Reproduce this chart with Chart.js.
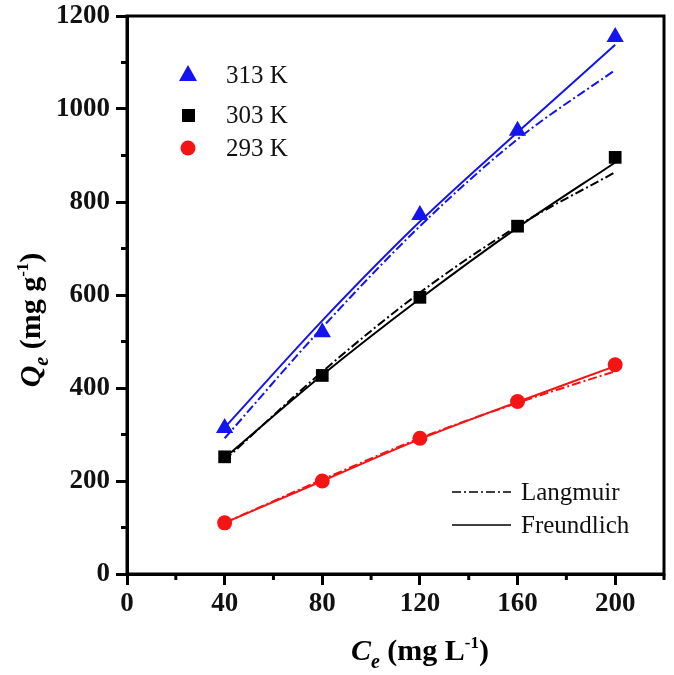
<!DOCTYPE html>
<html>
<head>
<meta charset="utf-8">
<script src="https://cdn.jsdelivr.net/npm/chart.js@4.4.0/dist/chart.umd.min.js"></script>
<style>
html, body { margin: 0; padding: 0; background: #fff; overflow: hidden; }
canvas { display: block; }
</style>
</head>
<body>
<canvas id="qeChart" width="674" height="675"></canvas>
<script>
// equilibrium concentration (mg/L)
var ceValues = [40, 80, 120, 160, 200];
// measured uptake (mg/g)
var q313 = [314, 520, 772, 953, 1155];
var q303 = [252, 427, 595, 748, 896];
var q293 = [110, 200, 292, 371, 450];
// Freundlich fits (solid) and Langmuir fits (dash-dot)
var fr313 = [315, 545, 758, 950, 1138];
var la313 = [292, 530, 748, 935, 1084];
var fr303 = [250, 428, 592, 745, 885];
var la303 = [245, 435, 605, 748, 864];
var fr293 = [110, 200, 290, 370, 447];
var la293 = [110, 203, 292, 368, 436];
// ticks
var xTicks = [0, 40, 80, 120, 160, 200];
var xMinor = [20, 60, 100, 140, 180, 220];
var yTicks = [0, 200, 400, 600, 800, 1000, 1200];
var yMinor = [100, 300, 500, 700, 900, 1100];

var BLUE = 'rgb(20,20,240)';
var RED = 'rgb(245,20,20)';
var BLACK = '#000';
var SERIF = '"Liberation Serif", "Times New Roman", serif';
var DASHDOT = [9, 3, 2, 3];

function pts(ys) {
    return ceValues.map(function(c, i) { return {x: c, y: ys[i]}; });
}

function fitLine(ys, color, dashed) {
    return {
        type: 'line',
        data: pts(ys),
        borderColor: color,
        borderWidth: 2,
        borderDash: dashed ? DASHDOT : [],
        pointRadius: 0,
        tension: 0.4,
        cubicInterpolationMode: 'monotone',
        fill: false,
        order: 2
    };
}

function markers(ys, color, style, r) {
    return {
        type: 'scatter',
        data: pts(ys),
        backgroundColor: color,
        borderColor: color,
        borderWidth: 0,
        pointStyle: style,
        pointRadius: r,
        pointHoverRadius: r,
        showLine: false,
        order: 1
    };
}

// draw a run of text pieces with their own fonts / offsets
function drawRuns(ctx, runs, cx, y) {
    var total = 0;
    runs.forEach(function(r) { ctx.font = r.font; total += ctx.measureText(r.t).width; });
    var x = cx - total / 2;
    ctx.textAlign = 'left';
    ctx.textBaseline = 'alphabetic';
    runs.forEach(function(r) {
        ctx.font = r.font;
        ctx.fillText(r.t, x, y + (r.dy || 0));
        x += ctx.measureText(r.t).width;
    });
}

var decorPlugin = {
    id: 'decor',
    afterDraw: function(chart) {
        var ctx = chart.ctx;
        var a = chart.chartArea;
        var xs = chart.scales.x, ys = chart.scales.y;
        ctx.save();
        ctx.strokeStyle = BLACK;
        ctx.fillStyle = BLACK;
        ctx.lineWidth = 3;
        // frame
        ctx.strokeRect(a.left, a.top, a.right - a.left, a.bottom - a.top);
        // minor ticks
        ctx.beginPath();
        xMinor.forEach(function(v) {
            var px = xs.getPixelForValue(v);
            ctx.moveTo(px, a.bottom); ctx.lineTo(px, a.bottom + 6);
        });
        yMinor.forEach(function(v) {
            var py = ys.getPixelForValue(v);
            ctx.moveTo(a.left, py); ctx.lineTo(a.left - 6, py);
        });
        ctx.stroke();

        // axis titles
        var big = 'bold 30px ' + SERIF;
        drawRuns(ctx, [
            {t: 'C', font: 'italic bold 30px ' + SERIF},
            {t: 'e', font: 'italic bold 20px ' + SERIF, dy: 8},
            {t: ' (mg L', font: big},
            {t: '-1', font: 'bold 17px ' + SERIF, dy: -12},
            {t: ')', font: big}
        ], 420, 660);
        ctx.save();
        ctx.translate(40, 320);
        ctx.rotate(-Math.PI / 2);
        drawRuns(ctx, [
            {t: 'Q', font: 'italic bold 30px ' + SERIF},
            {t: 'e', font: 'italic bold 20px ' + SERIF, dy: 8},
            {t: ' (mg g', font: big},
            {t: '-1', font: 'bold 17px ' + SERIF, dy: -12},
            {t: ')', font: big}
        ], 0, 0);
        ctx.restore();

        // marker legend
        ctx.font = '25px ' + SERIF;
        ctx.textBaseline = 'middle';
        ctx.textAlign = 'left';
        ctx.fillStyle = BLUE;
        ctx.beginPath();
        ctx.moveTo(188, 65); ctx.lineTo(197, 81); ctx.lineTo(179, 81); ctx.closePath();
        ctx.fill();
        ctx.fillStyle = BLACK;
        ctx.fillRect(182, 109, 13, 13);
        ctx.fillStyle = RED;
        ctx.beginPath(); ctx.arc(188, 148, 7.5, 0, Math.PI * 2); ctx.fill();
        ctx.fillStyle = '#111';
        ctx.fillText('313 K', 226, 76);
        ctx.fillText('303 K', 226, 116);
        ctx.fillText('293 K', 226, 149);

        // line legend
        ctx.strokeStyle = BLACK;
        ctx.lineWidth = 1.5;
        ctx.setLineDash(DASHDOT);
        ctx.beginPath(); ctx.moveTo(452, 492); ctx.lineTo(511, 492); ctx.stroke();
        ctx.setLineDash([]);
        ctx.beginPath(); ctx.moveTo(452, 525); ctx.lineTo(511, 525); ctx.stroke();
        ctx.fillText('Langmuir', 521, 493);
        ctx.fillText('Freundlich', 521, 526);
        ctx.restore();
    }
};

var ctx = document.getElementById('qeChart').getContext('2d');
var qeChart = new Chart(ctx, {
    type: 'scatter',
    data: {
        datasets: [
            fitLine(la313, BLUE, true),
            fitLine(fr313, BLUE, false),
            fitLine(la303, BLACK, true),
            fitLine(fr303, BLACK, false),
            fitLine(la293, RED, true),
            fitLine(fr293, RED, false),
            markers(q313, BLUE, 'triangle', 10),
            markers(q303, BLACK, 'rect', 9),
            markers(q293, RED, 'circle', 7.5)
        ]
    },
    options: {
        responsive: false,
        animation: false,
        layout: { padding: { top: 16, right: 7, left: 0, bottom: 0 } },
        plugins: {
            legend: { display: false },
            tooltip: { enabled: false }
        },
        scales: {
            x: {
                type: 'linear',
                min: 0,
                max: 220,
                border: { color: BLACK, width: 3 },
                grid: { drawOnChartArea: false, tickLength: 11, tickColor: BLACK, tickWidth: 3 },
                afterBuildTicks: function(axis) {
                    axis.ticks = xTicks.map(function(v) { return {value: v}; });
                },
                afterFit: function(axis) {
                    axis.height = 101;
                    axis.paddingLeft = 0; axis.paddingRight = 0;
                },
                ticks: {
                    color: '#111',
                    padding: 3,
                    maxRotation: 0,
                    callback: function(v) { return String(v); },
                    font: { family: SERIF, size: 27, weight: 'bold' }
                }
            },
            y: {
                min: 0,
                max: 1200,
                border: { color: BLACK, width: 3 },
                grid: { drawOnChartArea: false, tickLength: 11, tickColor: BLACK, tickWidth: 3 },
                afterBuildTicks: function(axis) {
                    axis.ticks = yTicks.map(function(v) { return {value: v}; });
                },
                afterFit: function(axis) {
                    axis.width = 127;
                    axis.paddingTop = 0; axis.paddingBottom = 0;
                },
                ticks: {
                    color: '#111',
                    padding: 6,
                    callback: function(v) { return String(v); },
                    font: { family: SERIF, size: 27, weight: 'bold' }
                }
            }
        }
    },
    plugins: [decorPlugin]
});
</script>
</body>
</html>
